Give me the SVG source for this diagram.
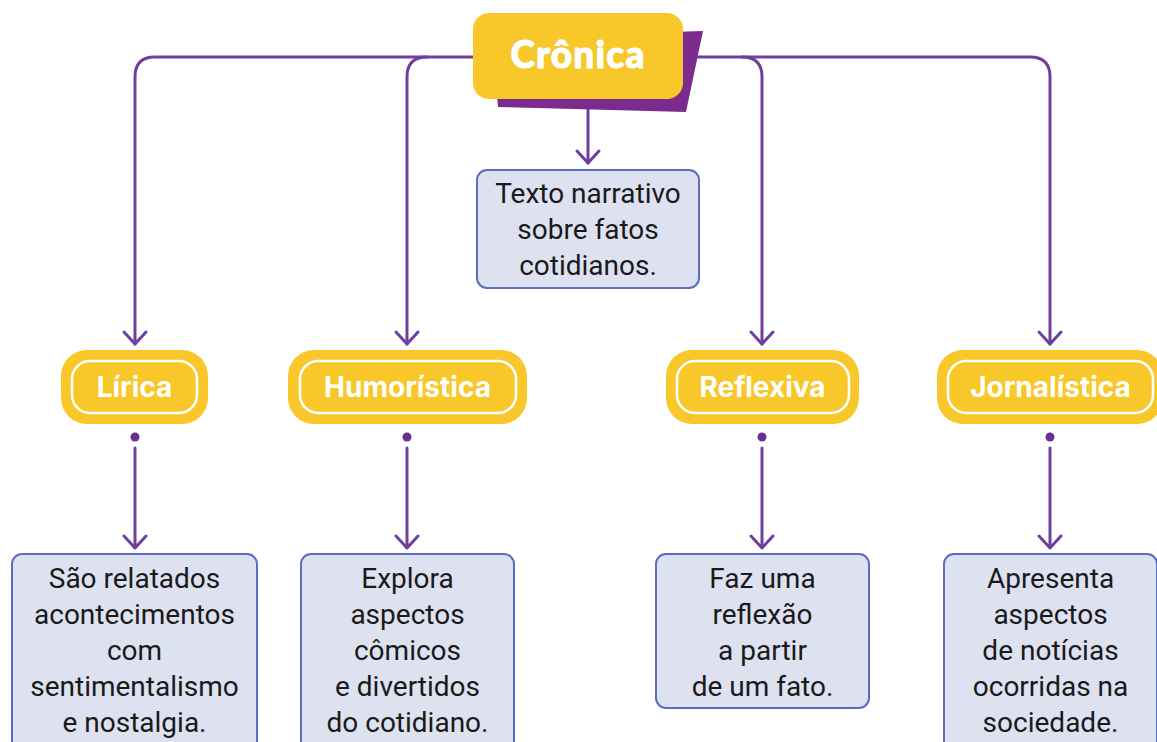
<svg xmlns="http://www.w3.org/2000/svg" width="1157" height="742" viewBox="0 0 1157 742">
<defs>
<style>
.ln{fill:none;stroke:#6E3FA0;stroke-width:3;stroke-linecap:round;stroke-linejoin:round}
.pill{fill:#F8C72A}
.pin{fill:none;stroke:#FFFFFF;stroke-width:2.5}
.pt{font-family:Inter,Roboto,"Liberation Sans",sans-serif;font-weight:700;font-size:28px;fill:#FFFFFF;text-anchor:middle}
.box{fill:#DEE1F0;stroke:#5B6DC2;stroke-width:2}
.bt{font-family:Roboto,Inter,"Liberation Sans",sans-serif;font-size:28px;fill:#1A1A1A;text-anchor:middle}
.dot{fill:#6E2C8E}
</style>
</defs>
<rect width="1157" height="742" fill="#FFFFFF"/>
<g id="connectors">
<path class="ln" d="M135,344 V77 Q135,57 155,57 H480"/>
<path class="ln" d="M407,344 V77 Q407,57 427,57"/>
<path class="ln" d="M680,57 H1030 Q1050,57 1050,77 V344"/>
<path class="ln" d="M742,57 Q762,57 762,77 V344"/>
<path class="ln" d="M588,108 V163"/>
<path class="ln" d="M577,151 L588,163 L599,151"/>
<path class="ln" d="M124,332 L135,344 L146,332"/>
<path class="ln" d="M396,332 L407,344 L418,332"/>
<path class="ln" d="M751,332 L762,344 L773,332"/>
<path class="ln" d="M1039,332 L1050,344 L1061,332"/>
<path class="ln" d="M135,448 V548 M124,536 L135,548 L146,536"/>
<path class="ln" d="M407,448 V548 M396,536 L407,548 L418,536"/>
<path class="ln" d="M762,448 V548 M751,536 L762,548 L773,536"/>
<path class="ln" d="M1050,448 V548 M1039,536 L1050,548 L1061,536"/>
<circle class="dot" cx="135" cy="437" r="4.5"/>
<circle class="dot" cx="407" cy="437" r="4.5"/>
<circle class="dot" cx="762" cy="437" r="4.5"/>
<circle class="dot" cx="1050" cy="437" r="4.5"/>
</g>
<g id="cronica">
<polygon points="670,32 703,31 686,112 498,107 497,95" fill="#7B2B8E"/>
<rect x="473" y="13" width="210" height="86" rx="16" fill="#F8C72A"/>
<text x="578" y="68" font-family="Lato,Roboto,'Liberation Sans',sans-serif" font-weight="900" font-size="37" letter-spacing="1.2" fill="#FFFFFF" stroke="#FFFFFF" stroke-width="1" stroke-linejoin="round" text-anchor="middle">Crônica</text>
</g>
<g id="texto">
<rect class="box" x="477" y="170" width="222" height="118" rx="10"/>
<text class="bt"><tspan x="588" y="203">Texto narrativo</tspan><tspan x="588" y="239">sobre fatos</tspan><tspan x="588" y="275">cotidianos.</tspan></text>
</g>
<g id="lirica">
<rect class="pill" x="61" y="350" width="147" height="74" rx="26"/>
<rect class="pin" x="72" y="361" width="125" height="52" rx="18"/>
<text class="pt" x="134.5" y="397">Lírica</text>
</g>
<g id="humoristica">
<rect class="pill" x="288" y="350" width="239" height="74" rx="26"/>
<rect class="pin" x="300" y="361" width="216" height="52" rx="18"/>
<text class="pt" x="407.5" y="397">Humorística</text>
</g>
<g id="reflexiva">
<rect class="pill" x="666" y="350" width="193" height="74" rx="26"/>
<rect class="pin" x="677" y="361" width="172" height="52" rx="18"/>
<text class="pt" x="762.5" y="397">Reflexiva</text>
</g>
<g id="jornalistica">
<rect class="pill" x="937" y="350" width="226" height="74" rx="26"/>
<rect class="pin" x="948" y="361" width="205" height="52" rx="18"/>
<text class="pt" x="1050.5" y="397">Jornalística</text>
</g>
<g id="desc-lirica">
<rect class="box" x="12" y="554" width="245" height="200" rx="10"/>
<text class="bt"><tspan x="134.5" y="588">São relatados</tspan><tspan x="134.5" y="624">acontecimentos</tspan><tspan x="134.5" y="660">com</tspan><tspan x="134.5" y="696">sentimentalismo</tspan><tspan x="134.5" y="732">e nostalgia.</tspan></text>
</g>
<g id="desc-humoristica">
<rect class="box" x="301" y="554" width="213" height="200" rx="10"/>
<text class="bt"><tspan x="407.5" y="588">Explora</tspan><tspan x="407.5" y="624">aspectos</tspan><tspan x="407.5" y="660">cômicos</tspan><tspan x="407.5" y="696">e divertidos</tspan><tspan x="407.5" y="732">do cotidiano.</tspan></text>
</g>
<g id="desc-reflexiva">
<rect class="box" x="656" y="554" width="213" height="154" rx="10"/>
<text class="bt"><tspan x="762.5" y="588">Faz uma</tspan><tspan x="762.5" y="624">reflexão</tspan><tspan x="762.5" y="660">a partir</tspan><tspan x="762.5" y="696">de um fato.</tspan></text>
</g>
<g id="desc-jornalistica">
<rect class="box" x="944" y="554" width="213" height="200" rx="10"/>
<text class="bt"><tspan x="1050.5" y="588">Apresenta</tspan><tspan x="1050.5" y="624">aspectos</tspan><tspan x="1050.5" y="660">de notícias</tspan><tspan x="1050.5" y="696">ocorridas na</tspan><tspan x="1050.5" y="732">sociedade.</tspan></text>
</g>
</svg>
